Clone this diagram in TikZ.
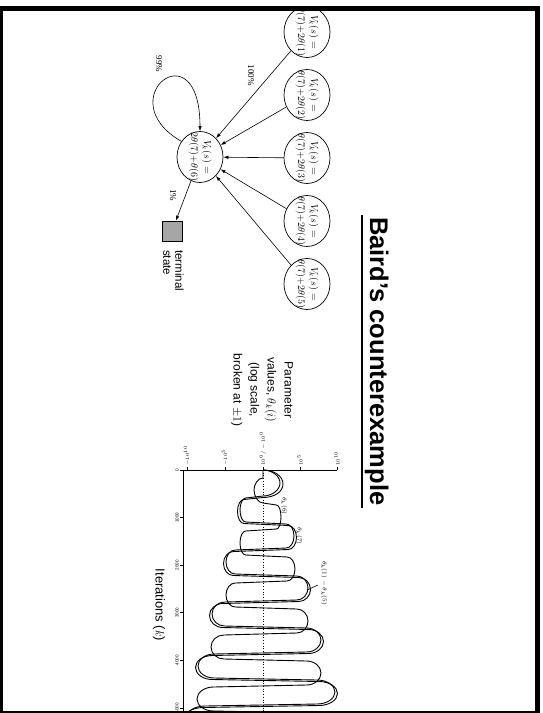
\documentclass[tikz,border=0pt]{standalone}
\usepackage{fontspec}
\setmainfont{Liberation Serif}
\setsansfont{Liberation Sans}
\usetikzlibrary{arrows.meta,shapes.geometric}

\begin{document}
\begin{tikzpicture}[x=1pt,y=1pt,
	state/.style={ellipse,draw,line width=.7pt,minimum width=51pt,minimum height=46pt,inner sep=0pt,align=center,font=\fontsize{10}{13}\selectfont},
	term/.style={draw,fill=black!35,line width=.6pt,minimum size=20pt,inner sep=0pt},
	arr/.style={line width=.6pt,-{Latex[length=5pt,width=3.5pt]}},
	pct/.style={font=\fontsize{9}{9}\selectfont},
	axis/.style={line width=.9pt},
	curve/.style={line width=.9pt,line join=round},
	ticklab/.style={font=\sffamily\fontsize{4.5}{5}\selectfont,inner sep=1pt,rotate=180},
	curvelab/.style={font=\fontsize{6.5}{7}\selectfont,inner sep=0pt}]
	\useasboundingbox (0,0) rectangle (542,-713);
	
	\begin{scope}[rotate=-90,transform shape]
		% title
		\node[anchor=base west,inner sep=0pt,font=\sffamily\bfseries\fontsize{25.5}{25}\selectfont] (title) at (217,370) {Baird’s counterexample};
		\draw[line width=1.8pt] (215,362) -- (508,362);
		
		% states
		\node[state] (n0) at (157,200) {\makebox[0pt]{$V_k(s) =$}\\\makebox[0pt]{$2\theta(7){+}\theta(6)$}};
		\foreach \i in {1,...,5}
			\node[state] (n\i) at ({32+63*(\i-1)},307) {\makebox[0pt]{$V_k(s) =$}\\\makebox[0pt]{$\theta(7){+}2\theta(\i)$}};
		\node[term] (t) at (231,172) {};
		\node[anchor=north west,align=left,inner sep=0pt,font=\sffamily\fontsize{11.5}{12}\selectfont] (tl) at (250,184) {terminal\\state};
		
		\foreach \i in {1,...,5}
			\draw[arr] (n\i) -- (n0);
		\draw[arr] (n0) -- (t);
		\draw[arr] (n0.230) .. controls +(240:85) and +(180:105) .. (n0.west);
		\node[pct] (p100) at (75,251) {100\%};
		\node[pct] (p99) at (64,159) {99\%};
		\node[pct] (p1) at (195,173) {1\%};
		
		% plot
		\def\cv{263}
		\node[align=center,font=\sffamily\fontsize{12}{17}\selectfont] (ylab) at (390,262) {Parameter\\values, $\theta_k(i)$\\(log scale,\\broken at $\pm1$)};
		\node[font=\sffamily\fontsize{13}{13}\selectfont] (xlab) at (605,159) {Iterations ($k$)};
		\draw[axis] (470,337) -- (470,183) -- (713,183);
		\draw[dotted,line width=.7pt] (470,\cv) -- (713,\cv);
		\foreach \i/\t in {0/0,1/1000,2/2000,3/3000,4/4000,5/5000}
			\draw[axis] ({470+47.6*\i},183) -- ++(0,-3) node[ticklab,above] (it\i) {\t};
		\foreach \v/\t [count=\j] in {187/{$-10^{10}$},225/{$-10^5$},263/{$10^0/-10^0$},300/{$10^5$},337/{$10^{10}$}}
			\draw[axis] (470,\v) -- ++(-3,0) node[ticklab,right] (pv\j) {\t};
		
		% theta(1)-theta(5)
		\draw[curve] (470,\cv) .. controls (470,{\cv+9}) and (476,{\cv+17}) .. (483,{\cv+17}) .. controls (490,{\cv+17}) and (496,{\cv+9}) .. (496,\cv)
			\foreach \ua/\ub/\A in {498/522/-23,524/548/31,550/574/-37,576/600/45,602/626/-51,628/652/58,654/678/-65,680/704/72,706/730/-77}
			{ -- (\ua,{\cv+.75*\A}) .. controls (\ua,{\cv+.888*\A}) and ({(\ua+\ub)/2-.276*(\ub-\ua)},{\cv+\A}) .. ({(\ua+\ub)/2},{\cv+\A})
				.. controls ({(\ua+\ub)/2+.276*(\ub-\ua)},{\cv+\A}) and (\ub,{\cv+.888*\A}) .. (\ub,{\cv+.75*\A}) };
		% theta(7)
		\draw[curve] (470,\cv) .. controls (470,{\cv+11}) and (476,{\cv+20}) .. (484,{\cv+20}) .. controls (492,{\cv+20}) and (497.5,{\cv+11}) .. (497.5,\cv)
			\foreach \ua/\ub/\A in {499.5/523.5/-25.5,525.5/549.5/33.5,551.5/575.5/-39.5,577.5/601.5/47.5,603.5/627.5/-53.5,629.5/653.5/60.5,655.5/679.5/-67.5,681.5/705.5/74.5,707.5/731.5/-79.5}
			{ -- (\ua,{\cv+.75*\A}) .. controls (\ua,{\cv+.888*\A}) and ({(\ua+\ub)/2-.276*(\ub-\ua)},{\cv+\A}) .. ({(\ua+\ub)/2},{\cv+\A})
				.. controls ({(\ua+\ub)/2+.276*(\ub-\ua)},{\cv+\A}) and (\ub,{\cv+.888*\A}) .. (\ub,{\cv+.75*\A}) };
		% theta(6)
		\draw[curve] (470,\cv) -- (478,\cv) .. controls (478,{\cv-5}) and (484,{\cv-9}) .. (490,{\cv-9}) .. controls (496,{\cv-9}) and (503,{\cv-5}) .. (503,\cv)
			\foreach \ua/\ub/\A in {505/529/18,531/555/-23,557/581/32,583/607/-37,609/633/45,635/659/-52,661/685/58,687/711/-66,713/737/72}
			{ -- (\ua,{\cv+.75*\A}) .. controls (\ua,{\cv+.888*\A}) and ({(\ua+\ub)/2-.276*(\ub-\ua)},{\cv+\A}) .. ({(\ua+\ub)/2},{\cv+\A})
				.. controls ({(\ua+\ub)/2+.276*(\ub-\ua)},{\cv+\A}) and (\ub,{\cv+.888*\A}) .. (\ub,{\cv+.75*\A}) };
		\node[curvelab] (l6) at (506,284) {$\theta_k(6)$};
		\node[curvelab] (l7) at (536,299) {$\theta_k(7)$};
		\node[curvelab] (l15) at (583,324) {$\theta_k(1)-\theta_k(5)$};
		\draw[line width=.6pt] (585,318) -- (590,307);
	\end{scope}
	
	% frame
	\fill (0,-6) rectangle (3,-713);
	\fill (0,-6) rectangle (540,-11);
	\fill (535,-6) rectangle (540,-713);
	\fill (0,-711) rectangle (540,-713);
\end{tikzpicture}
\end{document}
